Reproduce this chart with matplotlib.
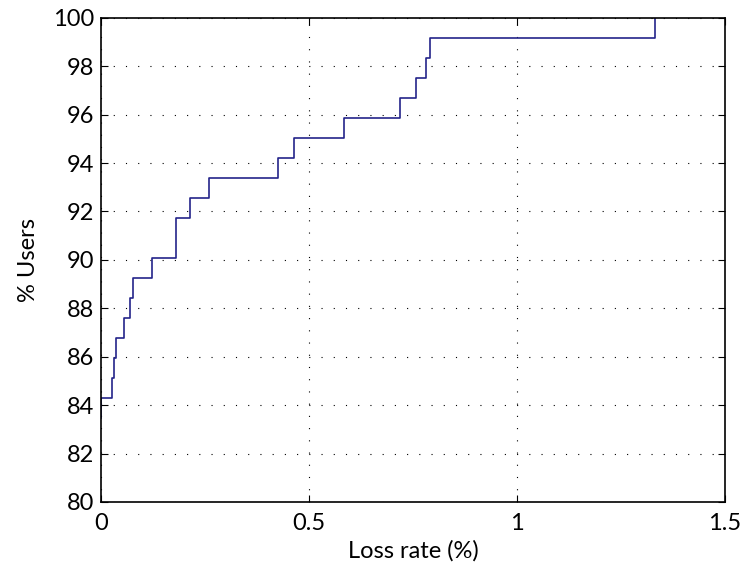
import matplotlib
matplotlib.use('Agg')
import matplotlib.pyplot as plt

# loss rate (%) at which each step starts, and the cumulative % users
loss_rate = [0, 0, 0.026, 0.032, 0.036, 0.055, 0.071, 0.076, 0.122, 0.180,
             0.180, 0.214, 0.260, 0.4245, 0.465, 0.584, 0.719, 0.7565, 0.781,
             0.791, 1.3325]
pct_users = [83.47, 84.30, 85.12, 85.95, 86.78, 87.60, 88.43, 89.26, 90.08,
             90.91, 91.74, 92.56, 93.39, 94.21, 95.04, 95.87, 96.69, 97.52,
             98.35, 99.17, 100.0]

x_ticks = [0, 0.5, 1, 1.5]
x_labels = ['0', '0.5', '1', '1.5']
y_ticks = list(range(80, 101, 2))

plt.rcParams['font.family'] = ['Lato', 'DejaVu Sans']

fig = plt.figure(figsize=(7.42, 5.73), dpi=100)
ax = fig.add_axes([0.136, 0.124, 0.841, 0.845])

ax.step(loss_rate, pct_users, where='post', color='#24248a', linewidth=1.2)

ax.set_xlim(0, 1.5)
ax.set_ylim(80, 100)
ax.set_xticks(x_ticks)
ax.set_xticklabels(x_labels)
ax.set_yticks(y_ticks)

ax.grid(True, color='black', linestyle=(0, (1, 10)), linewidth=0.8)
ax.tick_params(direction='in', top=True, right=True, labelsize=17, length=5,
               width=0.8)
ax.tick_params(axis='x', pad=8)
ax.tick_params(axis='y', pad=5)
for s in ax.spines.values():
    s.set_linewidth(1.2)

ax.set_xlabel('Loss rate (%)', fontsize=17, labelpad=4)
ax.set_ylabel('% Users', fontsize=17, labelpad=10)

fig.savefig('out.png', dpi=100)
